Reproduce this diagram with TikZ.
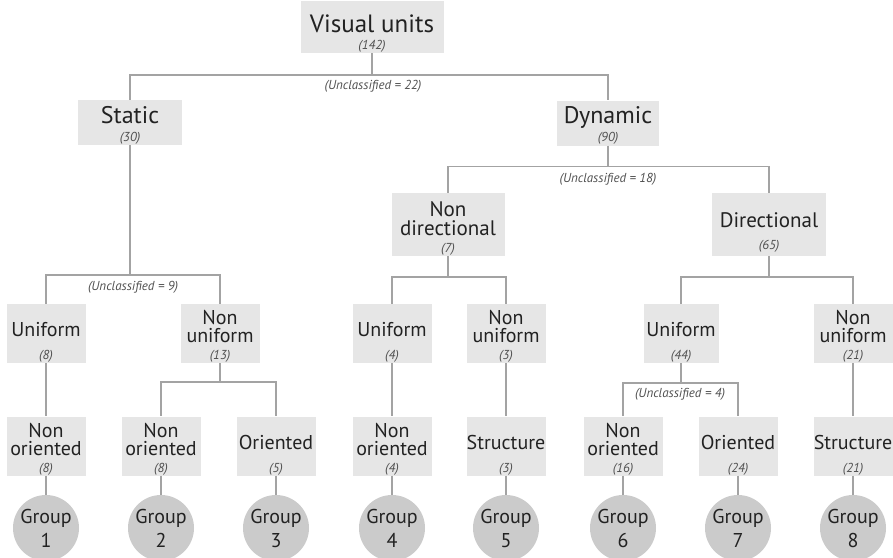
\documentclass[tikz,border=0pt]{standalone}
\usepackage{fontspec}
\setmainfont{PT Sans}
\definecolor{boxgray}{HTML}{E6E6E6}
\definecolor{grpgray}{HTML}{CBCBCB}
\definecolor{linegray}{HTML}{A3A3A3}
\definecolor{numgray}{HTML}{505050}
\definecolor{txtdark}{HTML}{222222}
\newcommand{\cnt}[1]{{\fontsize{13}{13}\selectfont\itshape\color{numgray}(#1)}}
\newcommand{\up}[1]{\rule{0pt}{#1pt}}
\tikzset{
  box/.style={fill=boxgray, inner sep=0pt, align=center, text=txtdark},
  topbox/.style={box, minimum width=143pt, minimum height=52pt, font=\fontsize{25}{17}\selectfont},
  catbox/.style={box, minimum width=104pt, minimum height=45pt, font=\fontsize{24}{18}\selectfont},
  subbox/.style={box, minimum width=113pt, minimum height=63pt, font=\fontsize{21}{19}\selectfont},
  leafbox/.style={box, minimum width=79pt, minimum height=59pt, font=\fontsize{20}{18}\selectfont},
  grp/.style={circle, fill=grpgray, minimum size=66pt, inner sep=0pt, align=center, text=txtdark, font=\fontsize{20}{24}\selectfont},
  link/.style={draw=linegray, line width=1.5pt},
  unc/.style={font=\fontsize{13}{13}\selectfont\itshape, text=numgray}
}
\begin{document}
\begin{tikzpicture}[x=1pt, y=-1pt]
    \useasboundingbox (0,0) rectangle (893,557);

    % root and first split
    \node[topbox] (vu) at (372,27) {\up{30}Visual units\\\cnt{142}};
    \node[catbox] (st) at (130,122.5) {\up{22}Static\\\cnt{30}};
    \node[catbox, minimum width=102pt] (dy) at (608,123) {\up{22}Dynamic\\\cnt{90}};

    % dynamic split
    \node[subbox] (nd) at (448,224.5) {\up{22}Non\\directional\\[-2pt]\cnt{7}};
    \node[subbox, minimum width=114pt] (di) at (769,224.5) {\up{31}Directional\\[3.5pt]\cnt{65}};

    % uniformity
    \node[leafbox] (su) at (46,333.5) {\up{32}Uniform\\[5pt]\cnt{8}};
    \node[leafbox] (sn) at (220,333.5) {\up{20}Non\\uniform\\[-1pt]\cnt{13}};
    \node[leafbox] (nu) at (392,333.5) {\up{32}Uniform\\[5pt]\cnt{4}};
    \node[leafbox] (nn) at (506,333.5) {\up{20}Non\\uniform\\[-1pt]\cnt{3}};
    \node[leafbox, minimum width=75pt] (du) at (681,333.5) {\up{32}Uniform\\[5pt]\cnt{44}};
    \node[leafbox] (dn) at (853,333.5) {\up{20}Non\\uniform\\[-1pt]\cnt{21}};

    % orientation / structure
    \node[leafbox] (l1) at (46,446) {\up{20}Non\\oriented\\[-1pt]\cnt{8}};
    \node[leafbox] (l2) at (161,446) {\up{20}Non\\oriented\\[-1pt]\cnt{8}};
    \node[leafbox] (l3) at (276,446) {\up{32}Oriented\\[5pt]\cnt{5}};
    \node[leafbox] (l4) at (392,446) {\up{20}Non\\oriented\\[-1pt]\cnt{4}};
    \node[leafbox] (l5) at (506,446) {\up{32}Structure\\[5pt]\cnt{3}};
    \node[leafbox] (l6) at (623,446) {\up{20}Non\\oriented\\[-1pt]\cnt{16}};
    \node[leafbox] (l7) at (738,446) {\up{32}Oriented\\[5pt]\cnt{24}};
    \node[leafbox] (l8) at (853,446) {\up{32}Structure\\[5pt]\cnt{21}};

    % groups
    \foreach \i/\x in {1/46, 2/161, 3/276, 4/392, 5/506, 6/623, 7/738, 8/853} {
        \node[grp] (g\i) at (\x,528) {Group\\\i};
        \draw[link] (l\i.south) -- (g\i.north);
    }

    % unclassified counts
    \node[unc] (u0) at (373,86) {(Unclassified = 22)};
    \node[unc] (u1) at (133,287) {(Unclassified = 9)};
    \node[unc] (u2) at (608,179) {(Unclassified = 18)};
    \node[unc] (u3) at (680,394) {(Unclassified = 4)};

    \draw[link] (vu.south) -- ++(0,22) coordinate (b0) -| (st.north);
    \draw[link] (b0) -| (dy.north);
    \draw[link] (st.south) -- ++(0,130) coordinate (b1) -| (su.north);
    \draw[link] (b1) -| (sn.north);
    \draw[link] (dy.south) -- ++(0,21) coordinate (b2) -| (nd.north);
    \draw[link] (b2) -| (di.north);
    \draw[link] (nd.south) -- ++(0,21) coordinate (b3) -| (nu.north);
    \draw[link] (b3) -| (nn.north);
    \draw[link] (di.south) -- ++(0,21) coordinate (b4) -| (du.north);
    \draw[link] (b4) -| (dn.north);
    \draw[link] (sn.south) -- ++(0,19) coordinate (b5) -| (l2.north);
    \draw[link] (b5) -| (l3.north);
    \draw[link] (du.south) -- ++(0,20) coordinate (b6) -| (l6.north);
    \draw[link] (b6) -| (l7.north);
    \draw[link] (su) -- (l1);
    \draw[link] (nu) -- (l4);
    \draw[link] (nn) -- (l5);
    \draw[link] (dn) -- (l8);
\end{tikzpicture}
\end{document}
